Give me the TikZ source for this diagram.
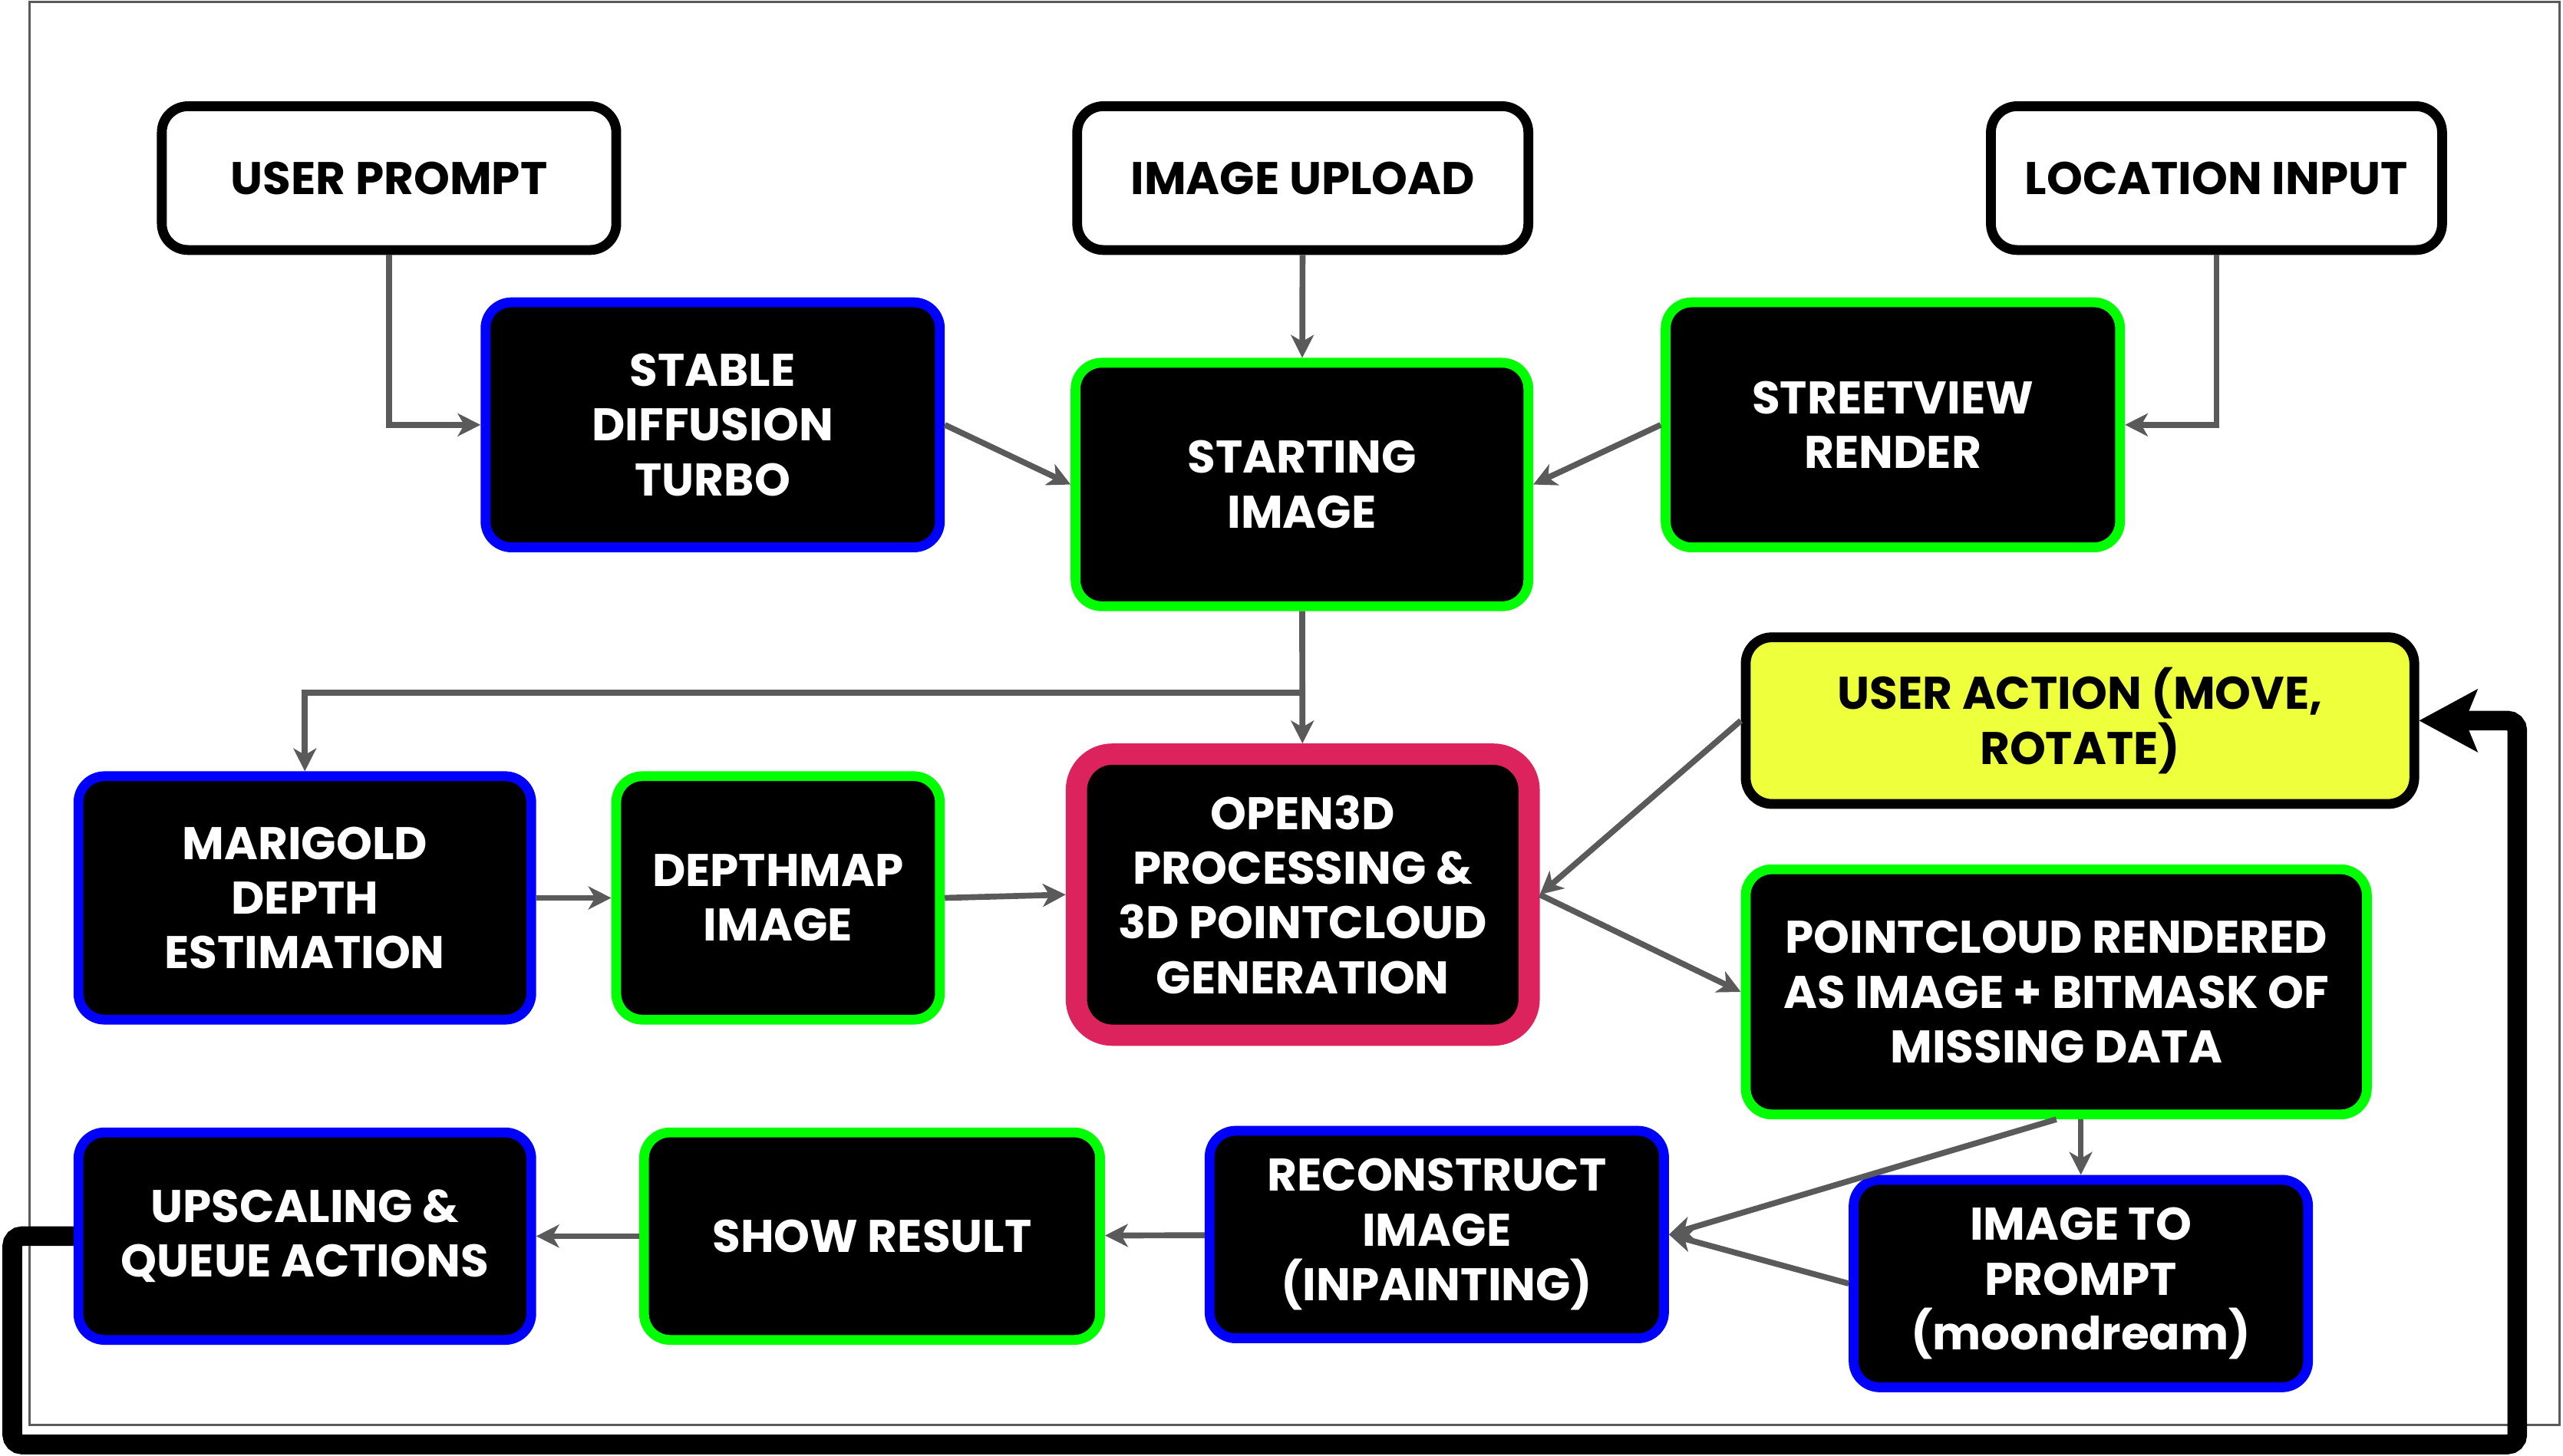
\documentclass[tikz,border=0pt]{standalone}
\usepackage{fontspec}
\setmainfont{Poppins}
\usetikzlibrary{arrows.meta}
\definecolor{sdblue}{RGB}{0,0,255}
\definecolor{sdgreen}{RGB}{0,255,0}
\definecolor{opencrimson}{RGB}{221,35,94}
\definecolor{actionyellow}{RGB}{238,255,60}
\definecolor{flowgray}{RGB}{90,90,90}
\tikzset{
    box/.style={rectangle, rounded corners=16pt, draw, line width=6pt, fill=black,
        text=white, align=center, inner sep=0pt,
        font=\bfseries\fontsize{28}{33.5}\selectfont},
    inbox/.style={box, draw=black, fill=white, text=black},
    bluebox/.style={box, draw=sdblue},
    greenbox/.style={box, draw=sdgreen},
    flow/.style={draw=flowgray, line width=3.6pt, -{Stealth[length=14pt,width=14pt,inset=4pt]}},
    loopline/.style={draw=black, line width=12pt, rounded corners=6pt,
        -{Stealth[length=36pt,width=39pt,inset=8pt,line width=0pt]}}
}
\begin{document}
\begin{tikzpicture}[x=1pt, y=-1pt]
    \useasboundingbox (0,0) rectangle (1568,890.6);
    \draw[flowgray, line width=1.4pt] (18,1) rectangle (1566,872);

    \node[inbox, minimum width=278pt, minimum height=88pt] (prompt) at (238,109) {USER PROMPT};
    \node[inbox, minimum width=276pt, minimum height=88pt] (upload) at (797,109) {IMAGE UPLOAD};
    \node[inbox, minimum width=276pt, minimum height=88pt] (location) at (1356,109) {LOCATION INPUT};

    \node[bluebox, minimum width=278pt, minimum height=150pt] (sdturbo) at (436,260) {STABLE\\DIFFUSION\\TURBO};
    \node[greenbox, minimum width=277pt, minimum height=149pt] (start) at (796.5,296.5) {STARTING\\IMAGE};
    \node[greenbox, minimum width=278pt, minimum height=150pt] (street) at (1158,260) {STREETVIEW\\RENDER};

    \node[bluebox, minimum width=277pt, minimum height=149pt] (marigold) at (186.5,549.5) {MARIGOLD\\DEPTH\\ESTIMATION};
    \node[greenbox, minimum width=198pt, minimum height=149pt] (depthmap) at (476,549.5) {DEPTHMAP\\IMAGE};
    \node[box, draw=opencrimson, line width=13pt, rounded corners=22pt,
        minimum width=277pt, minimum height=172pt] (open3d) at (797,547.5)
        {OPEN3D\\PROCESSING \&\\3D POINTCLOUD\\GENERATION};

    \node[inbox, fill=actionyellow, minimum width=409pt, minimum height=102pt] (action) at (1272.5,441) {USER ACTION (MOVE,\\ROTATE)};
    \node[greenbox, minimum width=380pt, minimum height=150pt] (render) at (1258,607)
        {POINTCLOUD RENDERED\\AS IMAGE + BITMASK OF\\MISSING DATA};
    \node[bluebox, minimum width=278pt, minimum height=127pt] (img2prompt) at (1273,785.5) {IMAGE TO\\PROMPT\\(moondream)};

    \node[bluebox, minimum width=278pt, minimum height=127pt] (reconstruct) at (879,755.5) {RECONSTRUCT\\IMAGE\\(INPAINTING)};
    \node[greenbox, minimum width=279pt, minimum height=127pt] (show) at (533.5,756.5) {SHOW RESULT};
    \node[bluebox, minimum width=277pt, minimum height=127pt] (upscale) at (186.5,756.5) {UPSCALING \&\\QUEUE ACTIONS};

    \coordinate (split) at (797,424);
    \coordinate (loopSW) at (7.5,884);
    \coordinate (loopNE) at (1540,441);

    \draw[flow] (prompt.south) |- (sdturbo.west);
    \draw[flow] (upload) -- (start);
    \draw[flow] (location.south) |- (street.east);
    \draw[flow] (sdturbo.east) -- (start.west);
    \draw[flow] (street.west) -- (start.east);
    \draw[flow] (start) -- (open3d);
    \draw[flow] (split) -| (marigold.north);
    \draw[flow] (marigold) -- (depthmap);
    \draw[flow] (depthmap.east) -- (open3d.west);
    \draw[flow] (action.west) -- (open3d.east);
    \draw[flow] (open3d.east) -- (render.west);
    \draw[flow] (render.south -| img2prompt.north) -- (img2prompt.north);
    \draw[flow] (render.south) -- (reconstruct.east);
    \draw[flow] (img2prompt.west) -- (reconstruct.east);
    \draw[flow] (reconstruct) -- (show);
    \draw[flow] (show) -- (upscale);

    \draw[loopline] (upscale.west) -| (loopSW) -| (loopNE) -- (action.east);
\end{tikzpicture}
\end{document}
